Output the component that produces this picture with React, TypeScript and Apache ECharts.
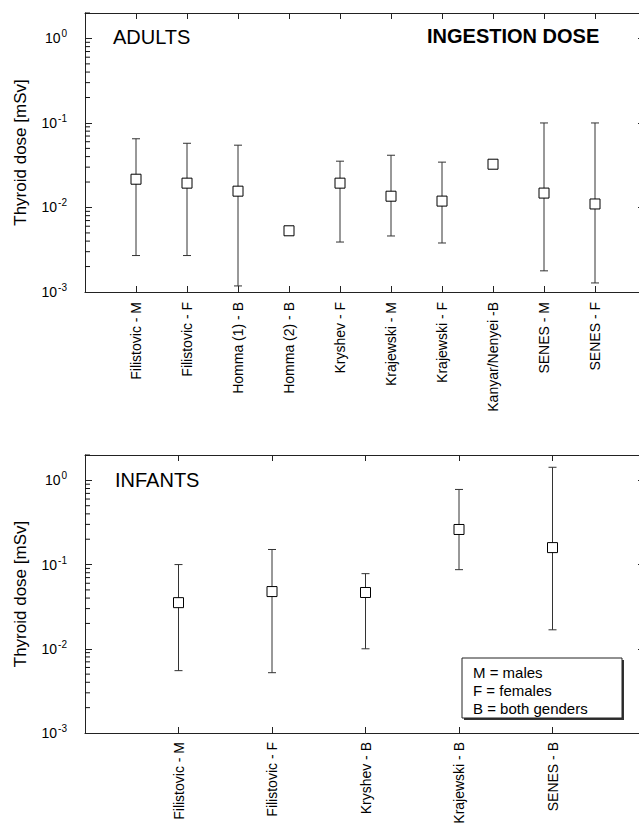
import React, { useEffect, useRef } from "react";
import * as echarts from "echarts";

const adultCats = ["Filistovic - M", "Filistovic - F", "Homma (1) - B", "Homma (2) - B", "Kryshev - F", "Krajewski - M", "Krajewski - F", "Kanyar/Nenyei -B", "SENES - M", "SENES - F"];
const adultMid = [0.0216, 0.0194, 0.0156, 0.0053, 0.0194, 0.0136, 0.0119, 0.0325, 0.0148, 0.011];
const adultLow = [0.0027, 0.0027, 0.00118, null, 0.0039, 0.0046, 0.0038, null, 0.00178, 0.00128];
const adultHigh = [0.065, 0.0575, 0.0546, null, 0.0353, 0.0415, 0.0344, null, 0.1, 0.1];

const infantCats = ["Filistovic - M", "Filistovic - F", "Kryshev - B", "Krajewski - B", "SENES - B"];
const infantMid = [0.0353, 0.0478, 0.0466, 0.261, 0.159];
const infantLow = [0.0055, 0.0052, 0.01, 0.087, 0.0168];
const infantHigh = [0.1, 0.151, 0.078, 0.78, 1.43];

const decades = [-3, -2, -1, 0];
const minorMultipliers = [2, 3, 4, 5, 6, 7, 8, 9];
const yMin = 0.001;
const yMax = 2;

const legendLines = ["M = males", "F = females", "B = both genders"];

const FONT = "'Liberation Sans', Arial, Helvetica, sans-serif";
const INK = "#222";

function powLabel(v: number) {
  const e = Math.round(Math.log10(v));
  if (Math.abs(v - Math.pow(10, e)) / v > 1e-6) return "";
  return `{b|10}{s|${e}}`;
}

function buildAxes(gridIndex: number, cats: string[], labelMargin: number) {
  const axisData = ["", ...cats, ""];
  const x = [
    {
      type: "category",
      gridIndex,
      data: axisData,
      boundaryGap: false,
      position: "bottom",
      axisLine: { show: true, lineStyle: { color: INK, width: 1 } },
      axisTick: { show: true, inside: true, length: 6, interval: 0, lineStyle: { color: INK } },
      axisLabel: { show: true, interval: 0, rotate: 90, margin: labelMargin, fontSize: 14, color: "#000", fontFamily: FONT },
      splitLine: { show: false },
    },
    {
      type: "category",
      gridIndex,
      data: axisData,
      boundaryGap: false,
      position: "top",
      axisLine: { show: true, lineStyle: { color: INK, width: 1 } },
      axisTick: { show: true, inside: true, length: 6, interval: 0, lineStyle: { color: INK } },
      axisLabel: { show: false },
      splitLine: { show: false },
    },
  ];
  const y = [
    {
      type: "log",
      logBase: 10,
      gridIndex,
      min: yMin,
      max: yMax,
      position: "left",
      name: "Thyroid dose [mSv]",
      nameLocation: "middle",
      nameGap: 56,
      nameRotate: 90,
      nameTextStyle: { fontSize: 17, color: "#000", fontFamily: FONT },
      axisLine: { show: true, lineStyle: { color: INK, width: 1 } },
      axisTick: { show: true, inside: true, length: 7, lineStyle: { color: INK } },
      axisLabel: {
        show: true,
        margin: 18,
        formatter: powLabel,
        rich: {
          b: { fontSize: 14, color: "#000", fontFamily: FONT },
          s: { fontSize: 10, color: "#000", fontFamily: FONT, padding: [0, 0, 9, 1] },
        },
      },
      splitLine: { show: false },
    },
    {
      type: "log",
      logBase: 10,
      gridIndex,
      min: yMin,
      max: yMax,
      position: "right",
      axisLine: { show: true, lineStyle: { color: INK, width: 1 } },
      axisTick: { show: true, inside: true, length: 8, lineStyle: { color: INK } },
      axisLabel: { show: false },
      splitLine: { show: false },
    },
  ];
  return { x, y };
}

function errorBarSeries(xAxisIndex: number, yAxisIndex: number, low: (number | null)[], high: (number | null)[]) {
  const data = low
    .map((lo, i) => (lo == null || high[i] == null ? null : [i + 1, lo, high[i]]))
    .filter((d) => d !== null);
  return {
    type: "custom",
    xAxisIndex,
    yAxisIndex,
    data,
    z: 2,
    silent: true,
    renderItem: (params: any, api: any) => {
      const xv = api.value(0);
      const top = api.coord([xv, api.value(2)]);
      const bot = api.coord([xv, api.value(1)]);
      const w = 4;
      const style = { stroke: "#333", lineWidth: 1 };
      return {
        type: "group",
        children: [
          { type: "line", shape: { x1: top[0], y1: top[1], x2: bot[0], y2: bot[1] }, style },
          { type: "line", shape: { x1: top[0] - w, y1: top[1], x2: top[0] + w, y2: top[1] }, style },
          { type: "line", shape: { x1: bot[0] - w, y1: bot[1], x2: bot[0] + w, y2: bot[1] }, style },
        ],
      };
    },
  };
}

function minorTickSeries(xAxisIndex: number, yAxisIndex: number) {
  const data: number[][] = [];
  decades.forEach((d) => {
    minorMultipliers.forEach((m) => {
      const v = m * Math.pow(10, d);
      if (v <= yMax) data.push([1, v]);
    });
  });
  return {
    type: "custom",
    xAxisIndex,
    yAxisIndex,
    data,
    z: 5,
    silent: true,
    clip: false,
    renderItem: (params: any, api: any) => {
      const p = api.coord([1, api.value(1)]);
      const x0 = params.coordSys.x;
      return { type: "line", shape: { x1: x0, y1: p[1], x2: x0 + 5, y2: p[1] }, style: { stroke: "#111", lineWidth: 1 } };
    },
  };
}

function scatterSeries(xAxisIndex: number, yAxisIndex: number, mid: number[]) {
  return {
    type: "scatter",
    xAxisIndex,
    yAxisIndex,
    data: mid.map((v, i) => [i + 1, v]),
    symbol: "rect",
    symbolSize: 10,
    z: 3,
    silent: true,
    itemStyle: { color: "#fff", borderColor: "#000", borderWidth: 1, opacity: 1 },
  };
}

export default function App() {
  const ref = useRef<HTMLDivElement>(null);
  useEffect(() => {
    if (!ref.current) return;
    const chart = echarts.init(ref.current, null, { renderer: "svg" });
    const a = buildAxes(0, adultCats, 10);
    const b = buildAxes(1, infantCats, 9);
    const textStyle = (text: string, size: number, bold = false) => ({
      text,
      fontSize: size,
      fontWeight: bold ? "bold" : "normal",
      fontFamily: FONT,
      fill: "#000",
      textVerticalAlign: "middle",
      verticalAlign: "middle",
    });
    const option: any = {
      animation: false,
      backgroundColor: "#fff",
      grid: [
        { left: 85, top: 13, width: 561, height: 279, containLabel: false, outerBoundsMode: "none" },
        { left: 85, top: 455, width: 561, height: 278, containLabel: false, outerBoundsMode: "none" },
      ],
      xAxis: [...a.x, ...b.x],
      yAxis: [...a.y, ...b.y],
      series: [
        minorTickSeries(0, 0),
        errorBarSeries(0, 0, adultLow, adultHigh),
        scatterSeries(0, 0, adultMid),
        minorTickSeries(2, 2),
        errorBarSeries(2, 2, infantLow, infantHigh),
        scatterSeries(2, 2, infantMid),
      ],
      graphic: [
        { type: "text", x: 113, y: 37, style: textStyle("ADULTS", 20) },
        { type: "text", x: 427, y: 36, style: textStyle("INGESTION DOSE", 20, true) },
        { type: "text", x: 115, y: 480, style: textStyle("INFANTS", 20) },
        { type: "rect", shape: { x: 464, y: 660, width: 160, height: 60 }, style: { fill: "#333" } },
        { type: "rect", shape: { x: 462, y: 658, width: 160, height: 60 }, style: { fill: "#fff", stroke: "#222", lineWidth: 1 } },
        ...legendLines.map((t, i) => ({ type: "text", x: 473, y: 672 + i * 18, style: textStyle(t, 15) })),
      ],
    };
    chart.setOption(option);
    return () => chart.dispose();
  }, []);
  return <div ref={ref} style={{ position: "absolute", left: 0, top: 0, width: 639, height: 825, background: "#fff" }} />;
}
